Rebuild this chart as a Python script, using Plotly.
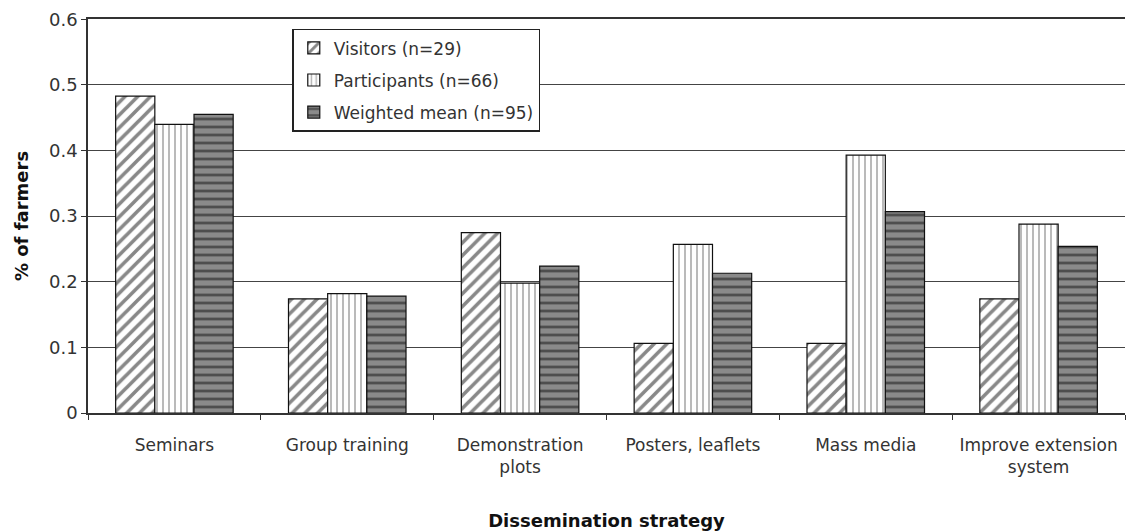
import plotly.graph_objects as go

categories = ["Seminars", "Group training", "Demonstration<br>plots", "Posters, leaflets",
              "Mass media", "Improve extension<br>system"]
visitors = [0.483, 0.174, 0.275, 0.106, 0.106, 0.174]
participants = [0.440, 0.182, 0.198, 0.257, 0.393, 0.288]
weighted = [0.455, 0.178, 0.224, 0.213, 0.307, 0.254]
y_ticks = [0, 0.1, 0.2, 0.3, 0.4, 0.5, 0.6]
y_tick_text = ["0", "0.1", "0.2", "0.3", "0.4", "0.5", "0.6"]

series = [
    ("Visitors (n=29)", visitors, dict(shape="/", fgcolor="#111111", bgcolor="white", size=9, solidity=0.4)),
    ("Participants (n=66)", participants, dict(shape="|", fgcolor="#666666", bgcolor="white", size=6, solidity=0.3)),
    ("Weighted mean (n=95)", weighted, dict(shape="-", fgcolor="#111111", bgcolor="#8a8a8a", size=8, solidity=0.35)),
]

fig = go.Figure()
for i, (name, vals, pat) in enumerate(series):
    fig.add_trace(go.Bar(
        x=categories, y=vals, name=name, legendgroup=f"g{i}",
        marker=dict(color="white", pattern=pat, line=dict(color="#111111", width=1.2)),
    ))

FONT = "DejaVu Sans, Liberation Sans, Arial, sans-serif"

# page body adds 8px offset, so margins are trimmed on left/top
fig.update_layout(
    width=1138, height=531,
    barmode="group", bargap=0.32, bargroupgap=0,
    paper_bgcolor="white", plot_bgcolor="white",
    font=dict(family=FONT, size=18, color="#333333"),
    margin=dict(l=80, r=21, t=11, b=126),
    showlegend=True,
    legend=dict(x=0.197, y=0.975, xanchor="left", yanchor="top",
                bgcolor="white", bordercolor="#222222", borderwidth=1.5,
                font=dict(size=17, color="#333333"), tracegroupgap=7,
                itemwidth=30),
)
fig.update_xaxes(
    showline=True, mirror=True, linecolor="#333333", linewidth=1.5,
    ticks="outside", tickson="boundaries", ticklen=5, tickcolor="#333333",
    tickangle=0, ticklabelstandoff=16,
    tickfont=dict(size=17, color="#333333"),
    title=dict(text="<b>Dissemination strategy</b>", font=dict(size=18, color="#111111"), standoff=38),
    automargin=False,
)
fig.update_yaxes(
    range=[0, 0.6005], tickmode="array", tickvals=y_ticks, ticktext=y_tick_text,
    showline=True, linecolor="#333333", linewidth=1.5,
    ticks="outside", ticklen=5, tickcolor="#333333",
    showgrid=True, gridcolor="#444444", gridwidth=1.2,
    tickfont=dict(size=18, color="#333333"),
    ticklabeloverflow="allow",
    title=dict(text="<b>% of farmers</b>", font=dict(size=18, color="#111111"), standoff=16),
    automargin=False,
)

fig.write_html("out.html")
